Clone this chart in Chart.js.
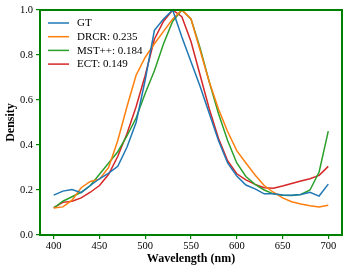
<!DOCTYPE html>
<html>
<head>
<meta charset="utf-8">
<script src="https://cdn.jsdelivr.net/npm/chart.js@4"></script>
<style>
  html, body { margin: 0; padding: 0; background: #fff; }
</style>
</head>
<body>
<canvas id="chart" width="349" height="272"></canvas>
<script>
// wavelengths (nm)
const wavelengths = [400, 410, 420, 430, 440, 450, 460, 470, 480, 490, 500,
                     510, 520, 530, 540, 550, 560, 570, 580, 590, 600,
                     610, 620, 630, 640, 650, 660, 670, 680, 690, 700];

// density curves
const gt = [0.177, 0.195, 0.202, 0.188, 0.22, 0.25, 0.275, 0.305, 0.39, 0.50, 0.69,
            0.91, 0.96, 1.0, 0.88, 0.77, 0.66, 0.54, 0.42, 0.32, 0.262,
            0.222, 0.205, 0.183, 0.183, 0.178, 0.177, 0.18, 0.19, 0.173, 0.226];
const drcr = [0.12, 0.125, 0.155, 0.21, 0.238, 0.248, 0.30, 0.42, 0.57, 0.71, 0.79,
              0.85, 0.905, 0.96, 1.0, 0.96, 0.82, 0.68, 0.56, 0.46, 0.375,
              0.32, 0.267, 0.22, 0.19, 0.165, 0.148, 0.138, 0.13, 0.125, 0.132];
const mst = [0.12, 0.15, 0.17, 0.19, 0.22, 0.27, 0.32, 0.37, 0.44, 0.52, 0.63,
             0.73, 0.85, 0.95, 1.0, 0.96, 0.83, 0.68, 0.54, 0.42, 0.32,
             0.26, 0.225, 0.2, 0.183, 0.177, 0.176, 0.18, 0.20, 0.28, 0.462];
const ect = [0.122, 0.145, 0.15, 0.165, 0.19, 0.22, 0.27, 0.35, 0.45, 0.57, 0.71,
             0.87, 0.95, 1.0, 0.97, 0.86, 0.71, 0.56, 0.43, 0.33, 0.272,
             0.245, 0.225, 0.21, 0.208, 0.218, 0.229, 0.24, 0.25, 0.265, 0.305];

const seriesNames = ['GT', 'DRCR: 0.235', 'MST++: 0.184', 'ECT: 0.149'];
const seriesColors = ['#1f77b4', '#ff7f0e', '#2ca02c', '#d62728'];

// tick labels
const xTicks = [400, 450, 500, 550, 600, 650, 700];
const yTicks = [0.0, 0.2, 0.4, 0.6, 0.8, 1.0];

const serif = 'Liberation Serif';
const spineColor = '#008000';

function toPoints(values) {
    return wavelengths.map((w, i) => ({ x: w, y: values[i] }));
}

// green box around the plot area
const framePlugin = {
    id: 'frame',
    afterDraw(chart) {
        const { ctx, chartArea } = chart;
        ctx.save();
        ctx.strokeStyle = spineColor;
        ctx.lineWidth = 2;
        ctx.strokeRect(chartArea.left, chartArea.top,
            chartArea.right - chartArea.left, chartArea.bottom - chartArea.top);
        ctx.restore();
    }
};

// matplotlib-like legend in the upper left corner
const legendPlugin = {
    id: 'insideLegend',
    afterDatasetsDraw(chart) {
        const { ctx, chartArea } = chart;
        const x0 = chartArea.left + 8;
        const rowStep = 13.7;
        ctx.save();
        ctx.font = `11px "${serif}"`;
        ctx.textBaseline = 'middle';
        ctx.fillStyle = '#000';
        chart.data.datasets.forEach((ds, i) => {
            const y = chartArea.top + 13 + i * rowStep;
            ctx.strokeStyle = ds.borderColor;
            ctx.lineWidth = ds.borderWidth;
            ctx.beginPath();
            ctx.moveTo(x0, y);
            ctx.lineTo(x0 + 21, y);
            ctx.stroke();
            ctx.fillText(ds.label, x0 + 29, y + 0.5);
        });
        ctx.restore();
    }
};

const datasets = [gt, drcr, mst, ect].map((values, i) => ({
    label: seriesNames[i],
    data: toPoints(values),
    borderColor: seriesColors[i],
    backgroundColor: seriesColors[i],
    borderWidth: 1.5,
    pointRadius: 0,
    tension: 0,
    fill: false
}));

new Chart(document.getElementById('chart').getContext('2d'), {
    type: 'line',
    data: { datasets },
    options: {
        responsive: false,
        animation: false,
        devicePixelRatio: 1,
        layout: { padding: { top: 10, right: 7, left: 0, bottom: 0 } },
        plugins: {
            tooltip: { enabled: false },
            legend: { display: false }
        },
        scales: {
            x: {
                type: 'linear',
                min: 385,
                max: 715,
                afterBuildTicks: (scale) => { scale.ticks = xTicks.map(v => ({ value: v })); },
                afterFit: (scale) => { scale.height = 37; },
                grid: { display: true, drawOnChartArea: false, drawTicks: true, tickLength: 4, color: spineColor, lineWidth: 1.2 },
                border: { display: false },
                ticks: { color: '#000', padding: 1, maxRotation: 0, font: { family: serif, size: 10.5 } },
                title: {
                    display: true,
                    text: 'Wavelength (nm)',
                    color: '#000',
                    padding: { top: 6, bottom: 6 },
                    font: { family: serif, size: 12, weight: 'bold' }
                }
            },
            y: {
                min: 0,
                max: 1,
                afterBuildTicks: (scale) => { scale.ticks = yTicks.map(v => ({ value: v })); },
                afterFit: (scale) => { scale.width = 40; },
                grid: { display: true, drawOnChartArea: false, drawTicks: true, tickLength: 4, color: spineColor, lineWidth: 1.2 },
                border: { display: false },
                ticks: {
                    color: '#000',
                    padding: 3,
                    font: { family: serif, size: 10.5 },
                    callback: (v) => Number(v).toFixed(1)
                },
                title: {
                    display: true,
                    text: 'Density',
                    color: '#000',
                    padding: { top: 4, bottom: 4 },
                    font: { family: serif, size: 12, weight: 'bold' }
                }
            }
        }
    },
    plugins: [legendPlugin, framePlugin]
});
</script>
</body>
</html>
